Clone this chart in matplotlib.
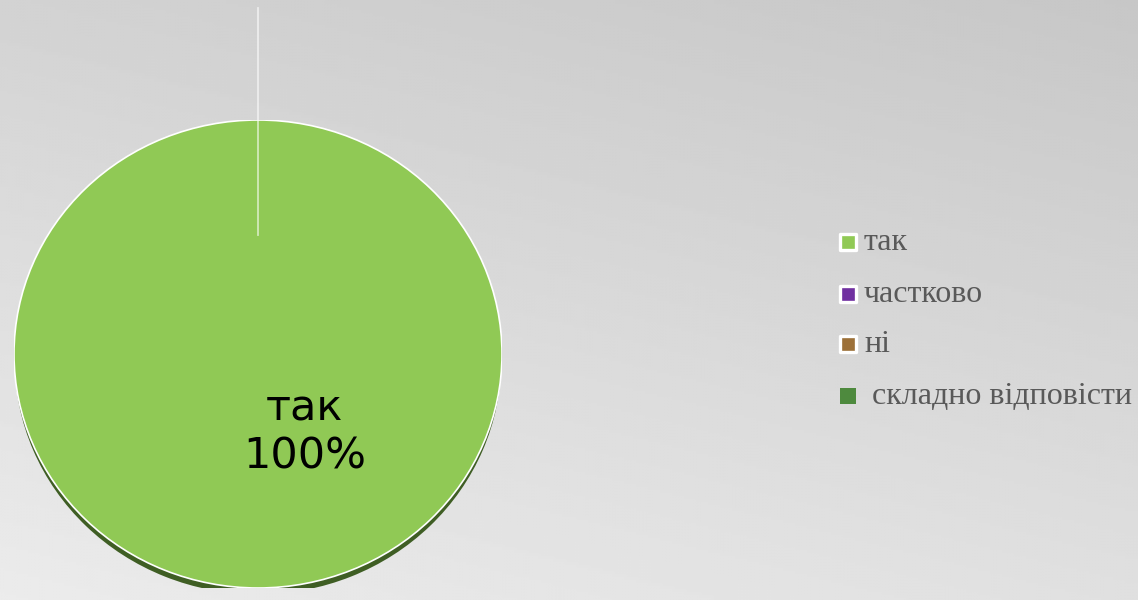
import numpy as np
import matplotlib.pyplot as plt
from matplotlib.patches import Wedge, Ellipse

labels = ['так', 'частково', 'ні', 'складно відповісти']
values = [100, 0, 0, 0]
colors = ['#90c955', '#7030a0', '#9c7038', '#4e8a3e']
edge_white = [True, True, True, False]

W, H = 1138, 600
fig = plt.figure(figsize=(W / 100, H / 100), dpi=100)

# background gradient in pixel coords
bg = fig.add_axes([0, 0, 1, 1])
bg.set_xlim(0, W)
bg.set_ylim(H, 0)
bg.axis('off')
yy, xx = np.mgrid[0:1:200j, 0:1:380j]
shade = 0.78 + 0.13 * (yy * 0.75 + (1 - xx) * 0.35)
bg.imshow(shade, cmap='gray', vmin=0, vmax=1, extent=[0, W, H, 0], aspect='auto', zorder=0)

# pie axes (slightly squashed circle)
px0, px1, py0, py1 = 14, 502, 120, 588
pie_ax = fig.add_axes([px0 / W, 1 - py1 / H, (px1 - px0) / W, (py1 - py0) / H])
pie_ax.axis('off')

# dark under-edge
pie_ax.add_patch(Wedge((0, -0.03), 0.997, 0, 360, facecolor='#3f5e24', edgecolor='none', zorder=1))

wedges, _ = pie_ax.pie(values, colors=colors, startangle=90, counterclock=False,
                       radius=1.0, wedgeprops=dict(linewidth=0))
for w in wedges:
    w.set_zorder(2)
pie_ax.add_patch(Ellipse((0, 0), 2, 2, facecolor='none', edgecolor='white', lw=1.2, zorder=3))
pie_ax.set_aspect('auto')
pie_ax.set_xlim(-1, 1)
pie_ax.set_ylim(-1, 1)

total = sum(values)
pie_ax.text(0.19, -0.335, f'{labels[0]}\n{values[0] / total * 100:.0f}%', ha='center', va='center',
            fontsize=31, color='black', family='DejaVu Sans', linespacing=1.2, zorder=4)

# white leader line at top (drawn above the pie)
pie_ax.plot([258, 258], [8, 235], color='white', lw=1.3, alpha=0.6, zorder=5,
            transform=bg.transData, clip_on=False)

# legend
ys = [242, 294, 344, 396]
for lab, col, ew, y in zip(labels, colors, edge_white, ys):
    bg.scatter([848], [y], marker='s', s=120, c=col,
               edgecolors='white' if ew else 'none', linewidths=2.4, zorder=5)
    tx = 864 if ew else 872
    bg.text(tx, y + 1, lab, ha='left', va='center', fontsize=23,
            family='Liberation Serif', color='#595959', zorder=5)

fig.savefig('out.png', dpi=100)
